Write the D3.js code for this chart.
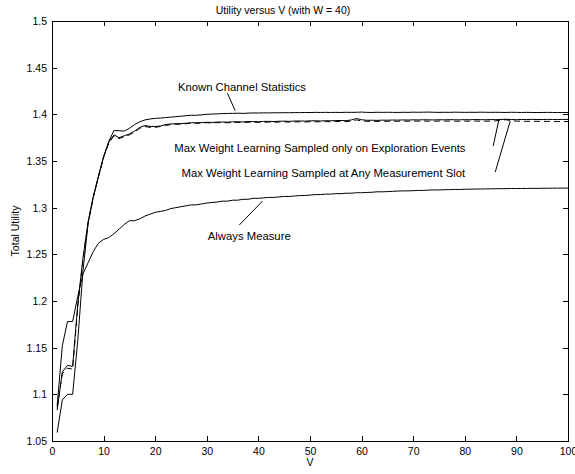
<!DOCTYPE html>
<html>
<head>
<meta charset="utf-8">
<script src="https://cdn.jsdelivr.net/npm/d3@7"></script>
<style>
  body { margin: 0; background: #fff; }
  svg { display: block; }
  text { font-family: "Liberation Sans", Arial, Helvetica, sans-serif; fill: #000; }
</style>
</head>
<body>
<div id="chart"></div>
<script>
// V = 1..100
var vValues = d3.range(1, 101)

var knownStats = [
  1.059, 1.094, 1.100, 1.100, 1.158, 1.232, 1.283, 1.311, 1.333, 1.354,
  1.371, 1.3825, 1.3825, 1.382, 1.385, 1.389, 1.392, 1.394, 1.395, 1.3957,
  1.396, 1.3965, 1.397, 1.3975, 1.398, 1.3985, 1.399, 1.399, 1.3995, 1.4000,
  1.4003, 1.4005, 1.4008, 1.4010, 1.4010, 1.4012, 1.4010, 1.4013, 1.4015, 1.4014,
  1.4016, 1.4015, 1.4017, 1.4016, 1.4018, 1.4017, 1.4019, 1.4018, 1.4020, 1.4019,
  1.4021, 1.4020, 1.4021, 1.4020, 1.4021, 1.4020, 1.4022, 1.4021, 1.4022, 1.4024,
  1.4021, 1.4020, 1.4022, 1.4021, 1.4022, 1.4021, 1.4020, 1.4022, 1.4021, 1.4023,
  1.4022, 1.4023, 1.4024, 1.4022, 1.4021, 1.4022, 1.4021, 1.4023, 1.4022, 1.4021,
  1.4022, 1.4021, 1.4023, 1.4022, 1.4021, 1.4022, 1.4021, 1.4020, 1.4022, 1.4021,
  1.4020, 1.4021, 1.4020, 1.4019, 1.4020, 1.4021, 1.4020, 1.4019, 1.4020, 1.4019
]

var explorationOnly = [
  1.083, 1.124, 1.131, 1.130, 1.197, 1.246, 1.285, 1.312, 1.334, 1.355,
  1.370, 1.378, 1.375, 1.377, 1.379, 1.382, 1.386, 1.388, 1.387, 1.387,
  1.3875, 1.389, 1.3897, 1.390, 1.390, 1.3905, 1.391, 1.391, 1.3912, 1.3915,
  1.3913, 1.3917, 1.3918, 1.3916, 1.3920, 1.3921, 1.3919, 1.3922, 1.3923, 1.3921,
  1.3924, 1.3925, 1.3923, 1.3926, 1.3927, 1.3925, 1.3928, 1.3929, 1.3927, 1.3930,
  1.3931, 1.3929, 1.3932, 1.3931, 1.3933, 1.3934, 1.3932, 1.3940, 1.3955, 1.3942,
  1.3936, 1.3937, 1.3935, 1.3938, 1.3937, 1.3939, 1.3938, 1.3940, 1.3939, 1.3941,
  1.3940, 1.3942, 1.3941, 1.3940, 1.3942, 1.3941, 1.3943, 1.3942, 1.3941, 1.3943,
  1.3942, 1.3944, 1.3943, 1.3942, 1.3944, 1.3943, 1.3945, 1.3947, 1.3944, 1.3943,
  1.3945, 1.3944, 1.3946, 1.3945, 1.3944, 1.3946, 1.3945, 1.3944, 1.3946, 1.3945
]

var anySlot = [
  1.086, 1.122, 1.128, 1.127, 1.194, 1.244, 1.284, 1.311, 1.333, 1.354,
  1.369, 1.377, 1.374, 1.376, 1.378, 1.381, 1.385, 1.387, 1.386, 1.386,
  1.387, 1.388, 1.389, 1.3893, 1.3895, 1.390, 1.3905, 1.3903, 1.3907, 1.3910,
  1.3908, 1.3911, 1.3912, 1.3910, 1.3913, 1.3914, 1.3912, 1.3915, 1.3916, 1.3914,
  1.3916, 1.3917, 1.3915, 1.3918, 1.3919, 1.3917, 1.3919, 1.3920, 1.3918, 1.3921,
  1.3921, 1.3920, 1.3922, 1.3921, 1.3923, 1.3924, 1.3922, 1.3928, 1.3940, 1.3930,
  1.3925, 1.3926, 1.3924, 1.3926, 1.3925, 1.3927, 1.3926, 1.3927, 1.3926, 1.3928,
  1.3927, 1.3928, 1.3927, 1.3926, 1.3928, 1.3927, 1.3928, 1.3927, 1.3926, 1.3928,
  1.3927, 1.3928, 1.3927, 1.3926, 1.3928, 1.3930, 1.3938, 1.3942, 1.3932, 1.3927,
  1.3926, 1.3925, 1.3926, 1.3925, 1.3924, 1.3925, 1.3924, 1.3923, 1.3924, 1.3923
]

var alwaysMeasure = [
  1.088, 1.152, 1.178, 1.178, 1.205, 1.229, 1.241, 1.253, 1.262, 1.266,
  1.268, 1.272, 1.277, 1.282, 1.286, 1.286, 1.288, 1.291, 1.293, 1.295,
  1.296, 1.297, 1.299, 1.300, 1.301, 1.302, 1.303, 1.303, 1.304, 1.305,
  1.3055, 1.306, 1.307, 1.307, 1.308, 1.308, 1.309, 1.309, 1.310, 1.310,
  1.3105, 1.311, 1.311, 1.3115, 1.312, 1.312, 1.3125, 1.313, 1.313, 1.3135,
  1.314, 1.314, 1.3145, 1.3145, 1.315, 1.315, 1.3155, 1.3155, 1.316, 1.316,
  1.3163, 1.3165, 1.317, 1.317, 1.3172, 1.3175, 1.3178, 1.318, 1.318, 1.3182,
  1.3185, 1.3185, 1.3188, 1.319, 1.319, 1.3192, 1.3193, 1.3195, 1.3195, 1.3197,
  1.3198, 1.320, 1.320, 1.3201, 1.3202, 1.3203, 1.3203, 1.3204, 1.3205, 1.3205,
  1.3206, 1.3206, 1.3207, 1.3207, 1.3208, 1.3208, 1.3209, 1.3209, 1.321, 1.321
]

var xTicks = [0, 10, 20, 30, 40, 50, 60, 70, 80, 90, 100]
var yTicks = [1.05, 1.1, 1.15, 1.2, 1.25, 1.3, 1.35, 1.4, 1.45, 1.5]

var titleText = "Utility versus V (with W = 40)"
var xLabel = "V"
var yLabel = "Total Utility"

// annotation text + pointer, in data units
var noteLabels = [
  "Known Channel Statistics",
  "Max Weight Learning Sampled only on Exploration Events",
  "Max Weight Learning Sampled at Any Measurement Slot",
  "Always Measure"
]
var noteAt = [[24.4, 1.4253], [23.7, 1.3593], [25.1, 1.3325], [30.2, 1.2654]]
var pointerFrom = [[34.0, 1.4226], [85.5, 1.366], [85.9, 1.3382], [36.3, 1.2814]]
var pointerTo = [[35.5, 1.4039], [86.6, 1.3939], [88.8, 1.3928], [40.8, 1.3071]]

var series = [
  { values: knownStats, dash: null },
  { values: explorationOnly, dash: null },
  { values: anySlot, dash: "6,4" },
  { values: alwaysMeasure, dash: null }
]

var svgWidth = 575
var svgHeight = 474
var margin = { top: 21, right: 7, bottom: 33, left: 52 }
var width = svgWidth - margin.left - margin.right
var height = svgHeight - margin.top - margin.bottom

var svg = d3.select("#chart").append("svg")
  .attr("width", svgWidth)
  .attr("height", svgHeight)

var chart = svg.append("g")
  .attr("transform", "translate(" + margin.left + "," + margin.top + ")")

var x = d3.scaleLinear().domain([0, 100]).range([0, width])
var y = d3.scaleLinear().domain([1.05, 1.5]).range([height, 0])

function styleAxis(g, axis) {
  g.call(axis)
  g.select(".domain").remove()
  g.selectAll("line").attr("stroke", "#000").attr("shape-rendering", "crispEdges")
  g.selectAll("text").style("font-size", "10.5px").attr("fill", "#000")
    .style("font-family", "'Liberation Sans', Arial, sans-serif")
}

chart.append("g")
  .attr("transform", "translate(0," + height + ")")
  .call(function(g) {
    styleAxis(g, d3.axisBottom(x).tickValues(xTicks).tickSize(-5).tickPadding(7).tickFormat(d3.format("d")))
  })

chart.append("g")
  .call(function(g) {
    styleAxis(g, d3.axisLeft(y).tickValues(yTicks).tickSize(-5).tickPadding(5).tickFormat(function(d) { return +d.toFixed(2) + "" }))
  })

chart.append("g")
  .call(function(g) {
    styleAxis(g, d3.axisTop(x).tickValues(xTicks).tickSize(-5).tickFormat(""))
  })

chart.append("g")
  .attr("transform", "translate(" + width + ",0)")
  .call(function(g) {
    styleAxis(g, d3.axisRight(y).tickValues(yTicks).tickSize(-5).tickFormat(""))
  })

chart.append("rect")
  .attr("x", 0).attr("y", 0)
  .attr("width", width).attr("height", height)
  .attr("fill", "none").attr("stroke", "#000").attr("stroke-width", 1)
  .attr("shape-rendering", "crispEdges")

var line = d3.line()
  .x(function(d, i) { return x(vValues[i]) })
  .y(function(d) { return y(d) })

chart.selectAll("path.series").data(series)
  .enter().append("path").attr("class", "series")
  .attr("d", function(d) { return line(d.values) })
  .attr("fill", "none")
  .attr("stroke", "#000")
  .attr("stroke-width", 1)
  .attr("stroke-dasharray", function(d) { return d.dash })

chart.selectAll("line.pointer").data(noteLabels)
  .enter().append("line").attr("class", "pointer")
  .attr("x1", function(d, i) { return x(pointerFrom[i][0]) })
  .attr("y1", function(d, i) { return y(pointerFrom[i][1]) })
  .attr("x2", function(d, i) { return x(pointerTo[i][0]) })
  .attr("y2", function(d, i) { return y(pointerTo[i][1]) })
  .attr("stroke", "#000").attr("stroke-width", 1)

chart.selectAll("text.note").data(noteLabels)
  .enter().append("text").attr("class", "note")
  .attr("x", function(d, i) { return x(noteAt[i][0]) })
  .attr("y", function(d, i) { return y(noteAt[i][1]) })
  .style("font-size", "11.3px")
  .text(function(d) { return d })

svg.append("text")
  .attr("x", 283).attr("y", 14)
  .attr("text-anchor", "middle")
  .style("font-size", "10.5px")
  .text(titleText)

svg.append("text")
  .attr("x", margin.left + width / 2).attr("y", 466)
  .attr("text-anchor", "middle")
  .style("font-size", "10.5px")
  .text(xLabel)

svg.append("text")
  .attr("transform", "translate(19," + (margin.top + height / 2) + ") rotate(-90)")
  .attr("text-anchor", "middle")
  .style("font-size", "10.5px")
  .text(yLabel)
</script>
</body>
</html>
